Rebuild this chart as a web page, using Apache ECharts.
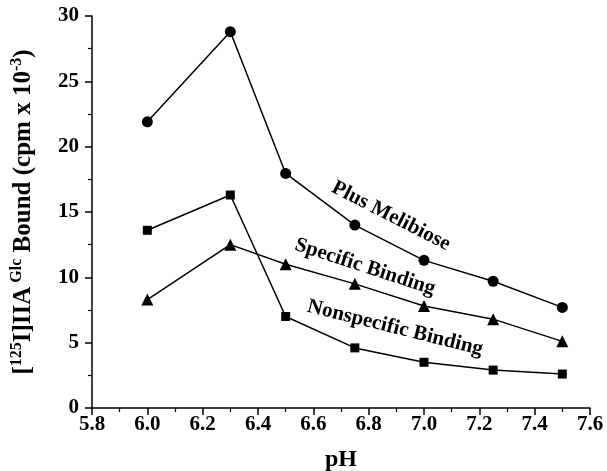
<!DOCTYPE html>
<html><head><meta charset="utf-8">
<script src="https://cdn.jsdelivr.net/npm/echarts@6/dist/echarts.min.js"></script>
<style>html,body{margin:0;padding:0;background:#fff}#c{width:607px;height:471px}</style>
</head><body><div id="c"></div>
<script>
const pH = [6.0, 6.3, 6.5, 6.75, 7.0, 7.25, 7.5];
const plusMelibiose = [21.9, 28.8, 17.95, 14.0, 11.3, 9.7, 7.7];
const specificBinding = [8.3, 12.5, 11.0, 9.5, 7.8, 6.8, 5.1];
const nonspecificBinding = [13.6, 16.3, 7.0, 4.6, 3.5, 2.9, 2.6];
const seriesNames = ['Plus Melibiose', 'Specific Binding', 'Nonspecific Binding'];

const F = 'Liberation Serif, Times New Roman, serif';
const pair = arr => pH.map((x, i) => [x, arr[i]]);
const mk = (name, data, symbol, size) => ({
  name, type: 'line', data: pair(data), symbol, symbolSize: size,
  lineStyle: {color: '#000', width: 1.5}, itemStyle: {color: '#000'},
  showSymbol: true, animation: false, z: 3
});
const chart = echarts.init(document.getElementById('c'));
chart.setOption({
  animation: false,
  grid: {left: 92, right: 17, top: 16, bottom: 63, containLabel: false, outerBoundsMode: 'none'},
  xAxis: {
    type: 'value', min: 5.8, max: 7.6, interval: 0.2,
    name: 'pH', nameLocation: 'middle', nameGap: 40,
    nameTextStyle: {fontFamily: F, fontWeight: 'bold', fontSize: 24, color: '#000'},
    axisLine: {lineStyle: {color: '#000', width: 1.5}},
    axisTick: {lineStyle: {color: '#000', width: 1.5}, length: 7},
    minorTick: {show: true, splitNumber: 2, length: 4, lineStyle: {color: '#000', width: 1.2}},
    splitLine: {show: false},
    axisLabel: {fontFamily: F, fontWeight: 'bold', fontSize: 21, color: '#000', margin: 6,
      formatter: v => v.toFixed(1)}
  },
  yAxis: {
    type: 'value', min: 0, max: 30, interval: 5,
    name: '[{sup|125}I]IIA{sup| Glc} Bound (cpm x 10{sup|-3})',
    nameLocation: 'middle', nameGap: 54, nameRotate: 90,
    nameTextStyle: {fontFamily: F, fontWeight: 'bold', fontSize: 25, color: '#000',
      rich: {sup: {fontFamily: F, fontWeight: 'bold', fontSize: 16, color: '#000', verticalAlign: 'top', lineHeight: 29}}},
    axisLine: {lineStyle: {color: '#000', width: 1.5}},
    axisTick: {lineStyle: {color: '#000', width: 1.5}, length: 7},
    minorTick: {show: true, splitNumber: 2, length: 4, lineStyle: {color: '#000', width: 1.2}},
    splitLine: {show: false},
    axisLabel: {fontFamily: F, fontWeight: 'bold', fontSize: 21, color: '#000', margin: 13}
  },
  series: [
    mk(seriesNames[0], plusMelibiose, 'circle', 11),
    mk(seriesNames[1], specificBinding, 'triangle', 12),
    mk(seriesNames[2], nonspecificBinding, 'rect', 9)
  ],
  graphic: [
    {type: 'text', x: 391, y: 216, rotation: -27 * Math.PI / 180,
     style: {text: seriesNames[0], font: 'bold 21px ' + F, fill: '#000', textAlign: 'center', textVerticalAlign: 'middle'}},
    {type: 'text', x: 365, y: 267, rotation: -18 * Math.PI / 180,
     style: {text: seriesNames[1], font: 'bold 21px ' + F, fill: '#000', textAlign: 'center', textVerticalAlign: 'middle'}},
    {type: 'text', x: 395, y: 328, rotation: -14 * Math.PI / 180,
     style: {text: seriesNames[2], font: 'bold 21px ' + F, fill: '#000', textAlign: 'center', textVerticalAlign: 'middle'}}
  ]
});
</script></body></html>
